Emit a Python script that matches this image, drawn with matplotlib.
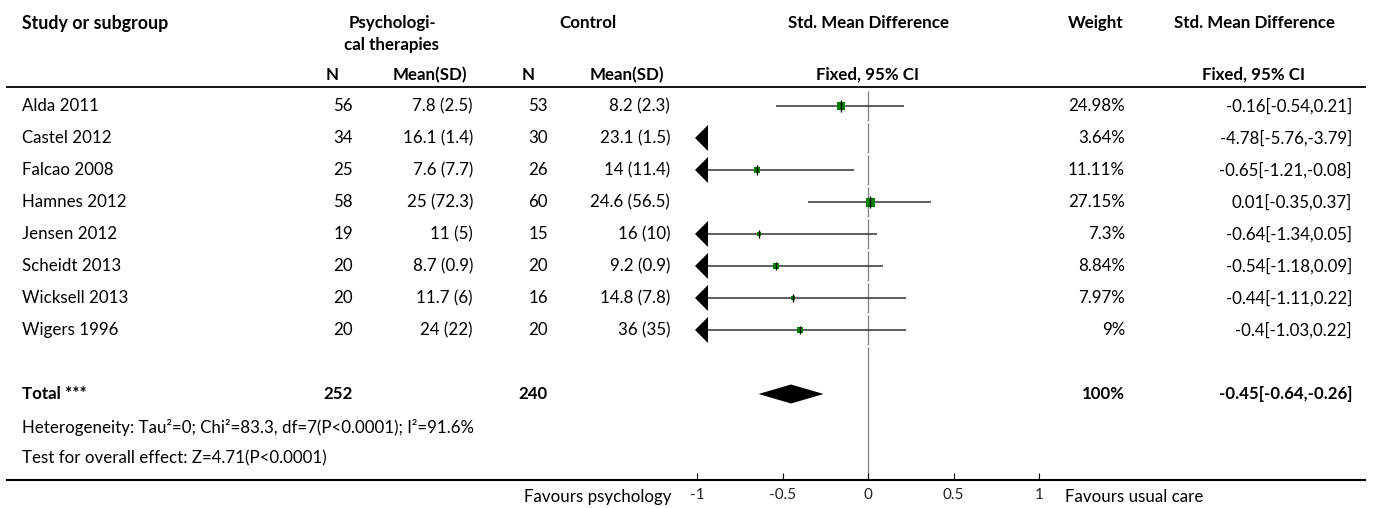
import matplotlib.pyplot as plt
from matplotlib.transforms import blended_transform_factory

studies = ['Alda 2011', 'Castel 2012', 'Falcao 2008', 'Hamnes 2012',
           'Jensen 2012', 'Scheidt 2013', 'Wicksell 2013', 'Wigers 1996']
n_psy = [56, 34, 25, 58, 19, 20, 20, 20]
mean_psy = ['7.8 (2.5)', '16.1 (1.4)', '7.6 (7.7)', '25 (72.3)',
            '11 (5)', '8.7 (0.9)', '11.7 (6)', '24 (22)']
n_ctl = [53, 30, 26, 60, 15, 20, 16, 20]
mean_ctl = ['8.2 (2.3)', '23.1 (1.5)', '14 (11.4)', '24.6 (56.5)',
            '16 (10)', '9.2 (0.9)', '14.8 (7.8)', '36 (35)']
weights = [24.98, 3.64, 11.11, 27.15, 7.3, 8.84, 7.97, 9]
smd = [-0.16, -4.78, -0.65, 0.01, -0.64, -0.54, -0.44, -0.4]
ci_lo = [-0.54, -5.76, -1.21, -0.35, -1.34, -1.18, -1.11, -1.03]
ci_hi = [0.21, -3.79, -0.08, 0.37, 0.05, 0.09, 0.22, 0.22]

total_psy = 252
total_ctl = 240
total_smd = -0.45
total_lo = -0.64
total_hi = -0.26
heterogeneity = 'Heterogeneity: Tau\u00b2=0; Chi\u00b2=83.3, df=7(P<0.0001); I\u00b2=91.6%'
overall = 'Test for overall effect: Z=4.71(P<0.0001)'
axis_ticks = [-1, -0.5, 0, 0.5, 1]

plt.rcParams['font.family'] = ['Lato', 'DejaVu Sans']
FS = 12.2

W, H = 1373, 508
fig = plt.figure(figsize=(W / 100, H / 100), dpi=100)
ax = fig.add_axes([0, 0, 1, 1])
# x in effect units: 0 sits at 868 px, 171 px per unit
ax.set_xlim(-868 / 171, (W - 868) / 171)
# y in row units: first study at 106 px, 32 px per row
ax.set_ylim((H - 106) / 32, -106 / 32)
ax.axis('off')

def py(p):
    return (p - 106) / 32

tr = blended_transform_factory(ax.transAxes, ax.transData)
def col(x, y, s, ha, bold=False, size=FS, **kw):
    ax.text(x / W, y, s, ha=ha, va='center', transform=tr, fontsize=size,
            fontweight='bold' if bold else 'normal', color='black', **kw)

# header
col(22, py(23), 'Study or subgroup', 'left', True, size=12.8)
col(392, py(23), 'Psychologi-', 'center', True)
col(392, py(45), 'cal therapies', 'center', True)
col(588, py(23), 'Control', 'center', True)
col(868, py(23), 'Std. Mean Difference', 'center', True)
col(1123, py(23), 'Weight', 'right', True)
col(1254, py(23), 'Std. Mean Difference', 'center', True)
col(332, py(75), 'N', 'center', True)
col(467, py(75), 'Mean(SD)', 'right', True)
col(528, py(75), 'N', 'center', True)
col(664, py(75), 'Mean(SD)', 'right', True)
col(868, py(75), 'Fixed, 95% CI', 'center', True)
col(1254, py(75), 'Fixed, 95% CI', 'center', True)
ax.plot([7 / W, 1365 / W], [py(87), py(87)], transform=tr, color='black', lw=1.3)

# vertical line of no effect, broken at row borders
for i in range(len(studies)):
    ax.vlines(0, i - 0.5 + 0.04, i + 0.5 - 0.04, color='#808080', lw=0.9)
ax.vlines(0, len(studies) - 0.5 + 0.04, py(480), color='#808080', lw=0.9)

px_unit = 171
for i, name in enumerate(studies):
    col(22, i, name, 'left')
    col(353, i, str(n_psy[i]), 'right')
    col(473, i, mean_psy[i], 'right')
    col(548, i, str(n_ctl[i]), 'right')
    col(670, i, mean_ctl[i], 'right')
    col(1125, i, f'{weights[i]:g}%', 'right')
    col(1352, i, f'{smd[i]:g}[{ci_lo[i]:g},{ci_hi[i]:g}]', 'right')

    lo, hi = ci_lo[i], ci_hi[i]
    if lo < -1:
        tip = -1 - 2 / px_unit
        base = tip + 13 / px_unit
        ax.fill([tip, base, base], [i, i - 13 / 32, i + 13 / 32], color='black', lw=0)
        lo = base
    if hi > lo:
        ax.plot([lo, min(hi, 1)], [i, i], color='#333333', lw=1.1, solid_capstyle='butt')
    if -1 <= smd[i] <= 1:
        side = 9 * (weights[i] / 27.15) ** 0.5 * 0.72
        ax.scatter([smd[i]], [i], marker='s', s=side ** 2, color='#008000', lw=0, zorder=3)
        ax.plot([smd[i]], [i], marker='|', ms=side + 2.5, mew=1, color='black', zorder=4)

# total
ty = py(394)
col(22, ty, 'Total ***', 'left', True)
col(353, ty, str(total_psy), 'right', True)
col(548, ty, str(total_ctl), 'right', True)
col(1125, ty, '100%', 'right', True)
col(1352, ty, f'{total_smd:g}[{total_lo:g},{total_hi:g}]', 'right', True)
h = 9.5 / 32
ax.fill([total_lo, total_smd, total_hi, total_smd], [ty, ty - h, ty, ty + h], color='black', lw=0)

col(22, py(428), heterogeneity, 'left')
col(22, py(458), overall, 'left')

# bottom axis
ay = py(480)
ax.plot([7 / W, 1365 / W], [ay, ay], transform=tr, color='black', lw=1.5)
ax.vlines(axis_ticks, ay - 7 / 32, ay, color='black', lw=0.8)
for t in axis_ticks:
    ax.text(t, py(495), f'{t:g}', ha='center', va='center', fontsize=11, color='#222222')
col(672, py(497), 'Favours psychology', 'right')
col(1065, py(497), 'Favours usual care', 'left')

fig.savefig('out.png', dpi=100)
